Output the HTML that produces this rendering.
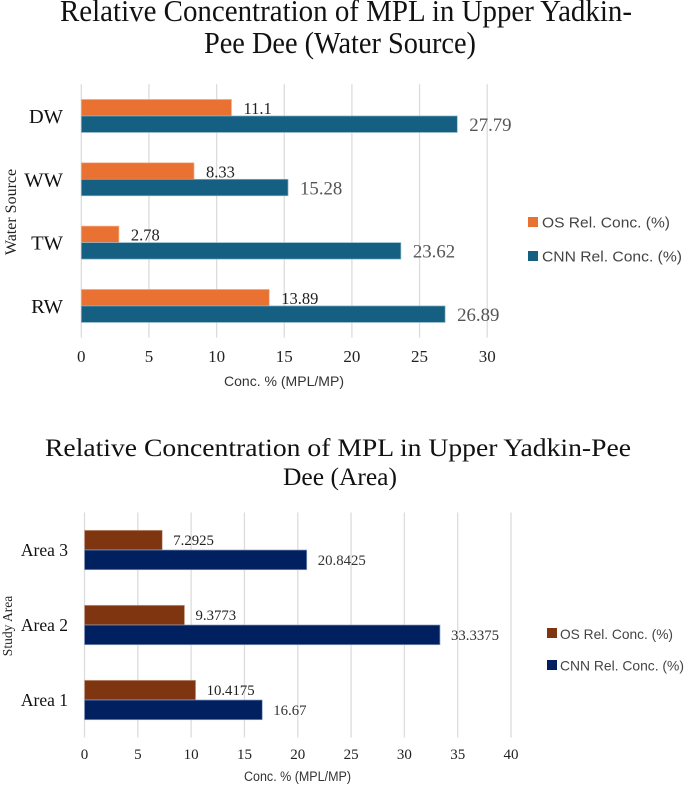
<!DOCTYPE html>
<html lang="en">
<head>
<meta charset="utf-8">
<title>Relative Concentration of MPL in Upper Yadkin-Pee Dee</title>
<style>
html,body{margin:0;padding:0;background:#fff;}
#page{position:relative;width:685px;height:786px;overflow:hidden;background:#fff;}
svg{display:block;position:absolute;left:0;top:0;filter:blur(0.35px);}
.serif{font-family:"Liberation Serif",serif;}
.sans{font-family:"Liberation Sans",sans-serif;}
</style>
</head>
<body>
<div id="page">
<svg id="fig" width="685" height="786" viewBox="0 0 685 786" xmlns="http://www.w3.org/2000/svg">
  <g id="water-chart">
    <text class="serif" x="60" y="21" font-size="31" fill="#111" textLength="572" lengthAdjust="spacingAndGlyphs">Relative Concentration of MPL in Upper Yadkin-</text>
    <text class="serif" x="204" y="53" font-size="31" fill="#111" textLength="272" lengthAdjust="spacingAndGlyphs">Pee Dee (Water Source)</text>
    <text class="serif" transform="translate(16,212) rotate(-90)" text-anchor="middle" font-size="16" fill="#222">Water Source</text>
    <text class="sans" x="224" y="386" font-size="14" fill="#333" textLength="120" lengthAdjust="spacingAndGlyphs">Conc. % (MPL/MP)</text>
    <rect x="528" y="217" width="10" height="10" fill="#e97132"></rect>
    <text class="sans" x="542" y="227.5" font-size="15" fill="#444" textLength="128" lengthAdjust="spacingAndGlyphs">OS Rel. Conc. (%)</text>
    <rect x="528" y="251" width="10" height="10" fill="#156082"></rect>
    <text class="sans" x="542" y="261.5" font-size="15" fill="#444" textLength="140" lengthAdjust="spacingAndGlyphs">CNN Rel. Conc. (%)</text>
  </g>
  <g id="area-chart">
    <text class="serif" x="45" y="456" font-size="25.5" fill="#111" textLength="586" lengthAdjust="spacingAndGlyphs">Relative Concentration of MPL in Upper Yadkin-Pee</text>
    <text class="serif" x="283" y="485" font-size="25.5" fill="#111" textLength="114" lengthAdjust="spacingAndGlyphs">Dee (Area)</text>
    <text class="serif" transform="translate(12,626) rotate(-90)" text-anchor="middle" font-size="13.5" fill="#222">Study Area</text>
    <text class="sans" x="244" y="781" font-size="13.5" fill="#333" textLength="107" lengthAdjust="spacingAndGlyphs">Conc. % (MPL/MP)</text>
    <rect x="547" y="628" width="10" height="10" fill="#7f3510"></rect>
    <text class="sans" x="560" y="639" font-size="14" fill="#444" textLength="113" lengthAdjust="spacingAndGlyphs">OS Rel. Conc. (%)</text>
    <rect x="547" y="660" width="10" height="10" fill="#002060"></rect>
    <text class="sans" x="560" y="670.5" font-size="14" fill="#444" textLength="124" lengthAdjust="spacingAndGlyphs">CNN Rel. Conc. (%)</text>
  </g>
</svg>
</div>
<script>
const waterCategories = ['DW', 'WW', 'TW', 'RW'];
const waterOS = [11.1, 8.33, 2.78, 13.89];
const waterCNN = [27.79, 15.28, 23.62, 26.89];
const waterTicks = [0, 5, 10, 15, 20, 25, 30];

const areaCategories = ['Area 3', 'Area 2', 'Area 1'];
const areaOS = [7.2925, 9.3773, 10.4175];
const areaCNN = [20.8425, 33.3375, 16.67];
const areaTicks = [0, 5, 10, 15, 20, 25, 30, 35, 40];

const SVG_NS = 'http://www.w3.org/2000/svg';

function make(parent, tag, attrs, text) {
  const el = document.createElementNS(SVG_NS, tag);
  Object.keys(attrs).forEach(function (k) { el.setAttribute(k, attrs[k]); });
  if (text !== undefined) el.textContent = text;
  parent.appendChild(el);
  return el;
}

function drawChart(root, prefix, categories, osValues, cnnValues, ticks, layout) {
  const x = function (v) {
    return layout.x0 + (v - ticks[0]) / (ticks[ticks.length - 1] - ticks[0]) * (layout.x1 - layout.x0);
  };
  const y = function (i) {
    return layout.top + (layout.bottom - layout.top) / categories.length * (i + 0.5);
  };

  ticks.forEach(function (t) {
    const grid = make(root, 'line', { x1: x(t), x2: x(t), y1: layout.top, y2: layout.bottom, stroke: '#dcdcdc', 'stroke-width': 1.3 });
    
    
    const tick = make(root, 'text', { x: x(t), y: layout.tickY, 'text-anchor': 'middle', 'font-size': layout.tickSize, 'font-family': '"Liberation Serif", serif', fill: '#222' }, String(t));
    
    
  });

  categories.forEach(function (c, i) {
    const mid = y(i);
    const label = make(root, 'text', { x: layout.catX, y: mid + layout.catDy, 'text-anchor': 'end', 'font-size': layout.catSize, 'font-family': '"Liberation Serif", serif', fill: '#111' }, c);
    
    

    const osBar = make(root, 'rect', { x: x(0), y: mid - layout.barH, width: x(osValues[i]) - x(0), height: layout.barH, fill: layout.osColor, stroke: layout.osEdge, 'stroke-width': 0.7 });
    
    

    const cnnBar = make(root, 'rect', { x: x(0), y: mid, width: x(cnnValues[i]) - x(0), height: layout.barH, fill: layout.cnnColor, stroke: layout.cnnEdge, 'stroke-width': 0.7 });
    
    

    const osLabel = make(root, 'text', { x: x(osValues[i]) + layout.labelGap, y: mid - layout.osLabelUp, 'font-size': layout.osLabelSize, 'font-family': '"Liberation Serif", serif', fill: '#222' }, String(osValues[i]));
    
    

    const cnnLabel = make(root, 'text', { x: x(cnnValues[i]) + layout.labelGap, y: mid + layout.cnnLabelDown, 'font-size': layout.cnnLabelSize, 'font-family': '"Liberation Serif", serif', fill: layout.cnnLabelColor }, String(cnnValues[i]));
    
    
  });
}

drawChart(document.getElementById('water-chart'), 'water', waterCategories, waterOS, waterCNN, waterTicks, {
  x0: 81.3, x1: 487.2, top: 84.3, bottom: 337.6, barH: 16.5,
  tickY: 362, tickSize: 17, catX: 63, catDy: 7, catSize: 20.5,
  osColor: '#e97132', osEdge: '#f3b08c', cnnColor: '#156082', cnnEdge: '#8fb6c8',
  labelGap: 12, osLabelUp: 2, cnnLabelDown: 15,
  osLabelSize: 16.5, cnnLabelSize: 18.8, cnnLabelColor: '#555'
});

drawChart(document.getElementById('area-chart'), 'area', areaCategories, areaOS, areaCNN, areaTicks, {
  x0: 84.5, x1: 511, top: 512.5, bottom: 737.5, barH: 19.7,
  tickY: 759, tickSize: 15, catX: 68, catDy: 6, catSize: 17.5,
  osColor: '#7f3510', osEdge: '#c9a48f', cnnColor: '#002060', cnnEdge: '#8c9fc4',
  labelGap: 11, osLabelUp: 5, cnnLabelDown: 15,
  osLabelSize: 14.8, cnnLabelSize: 14.8, cnnLabelColor: '#333'
});
</script>
</body>
</html>
